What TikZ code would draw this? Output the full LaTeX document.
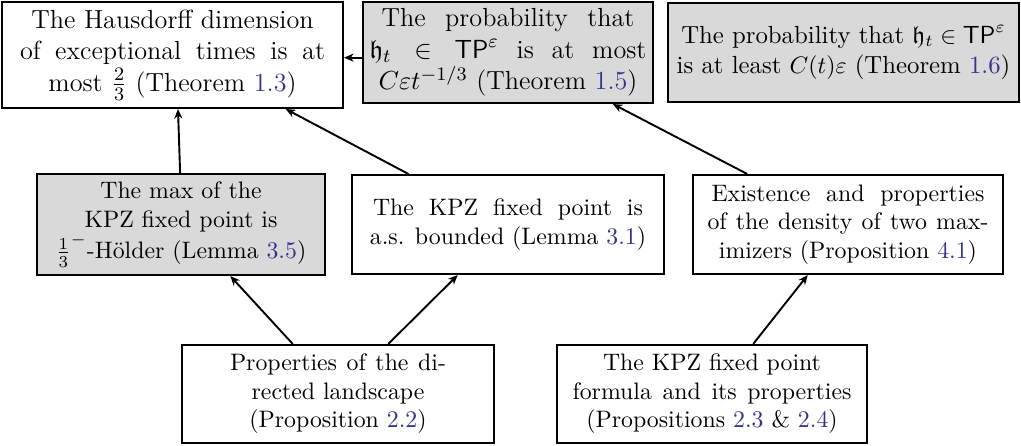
\documentclass[tikz,border=0pt]{standalone}
\usepackage{amssymb}
\usepackage{fontspec}
\usetikzlibrary{arrows.meta,calc}
\definecolor{linkc}{rgb}{0.2,0.2,0.55}
\definecolor{boxgray}{gray}{0.85}
\newcommand{\rf}[1]{\textcolor{linkc}{#1}}
\newdimen\pxu \pxu=0.42pt
\newcommand{\hl}[2]{\hbox to #1\pxu{#2}}
\begin{document}
\begin{tikzpicture}[x=0.42pt,y=-0.42pt,
  box/.style={draw=black,line width=0.85pt,align=center,inner sep=0pt,font=\fontsize{10}{12}\selectfont},
  gbox/.style={box,fill=boxgray},
  big/.style={font=\fontsize{11}{13.2}\selectfont},
  mid/.style={font=\fontsize{10.4}{12.8}\selectfont},
  arr/.style={line width=0.8pt,-{Stealth[length=4pt,width=3.4pt,inset=1.2pt]}}]
\useasboundingbox (0,0) rectangle (1021,446);
\node[box, big, minimum width=341*0.42pt, minimum height=106*0.42pt] (A) at (172.5,55) {The Hausdorff dimension\\ \hl{305}{of exceptional times is at}\\ most $\frac{2}{3}$ (Theorem \rf{1.3})};
\node[gbox, big, minimum width=290*0.42pt, minimum height=101*0.42pt] (B) at (508,52.5) {\hl{253}{The probability that}\\ \hl{277}{$\mathfrak{h}_t \in \mathsf{TP}^\varepsilon$ is at most}\\ $C\varepsilon t^{-1/3}$ (Theorem \rf{1.5})};
\node[gbox, mid, minimum width=351*0.42pt, minimum height=99*0.42pt] (C) at (843.5,52.5) {The probability that $\mathfrak{h}_t \in \mathsf{TP}^\varepsilon$\\ is at least $C(t)\varepsilon$ (Theorem \rf{1.6})};
\node[gbox, minimum width=288*0.42pt, minimum height=101*0.42pt] (D) at (181,224.5) {The max of the\\ KPZ fixed point is\\ $\frac{1}{3}^{-}$-Hölder (Lemma \rf{3.5})};
\node[box, minimum width=312*0.42pt, minimum height=99*0.42pt] (E) at (508,224.5) {\hl{270}{The KPZ fixed point is}\\ a.s. bounded (Lemma \rf{3.1})};
\node[box, minimum width=310*0.42pt, minimum height=99*0.42pt] (F) at (848,224.5) {\hl{273}{Existence and properties}\\ \hl{281}{of the density of two max-}\\ imizers (Proposition \rf{4.1})};
\node[box, minimum width=312*0.42pt, minimum height=98*0.42pt] (G) at (338,394) {\hl{216}{Properties of the di-}\\ rected landscape\\ (Proposition \rf{2.2})};
\node[box, minimum width=310*0.42pt, minimum height=98*0.42pt] (H) at (712,394) {The KPZ fixed point\\ \hl{279}{formula and its properties}\\ (Propositions \rf{2.3} \& \rf{2.4})};
\coordinate (bw) at ($(B.north west)!0.55!(B.south west)$);
\draw[arr] (bw) -- (bw -| A.east);
\draw[arr] ($(D.north west)!0.497!(D.north east)$) -- ($(A.south west)!0.516!(A.south east)$);
\draw[arr] ($(E.north west)!0.183!(E.north east)$) -- ($(A.south west)!0.83!(A.south east)$);
\draw[arr] ($(F.north west)!0.177!(F.north east)$) -- ($(B.south west)!0.859!(B.south east)$);
\draw[arr] ($(G.north west)!0.356!(G.north east)$) -- ($(D.south west)!0.67!(D.south east)$);
\draw[arr] ($(G.north west)!0.66!(G.north east)$) -- ($(E.south west)!0.34!(E.south east)$);
\draw[arr] ($(H.north west)!0.632!(H.north east)$) -- ($(F.south west)!0.371!(F.south east)$);
\end{tikzpicture}
\end{document}
